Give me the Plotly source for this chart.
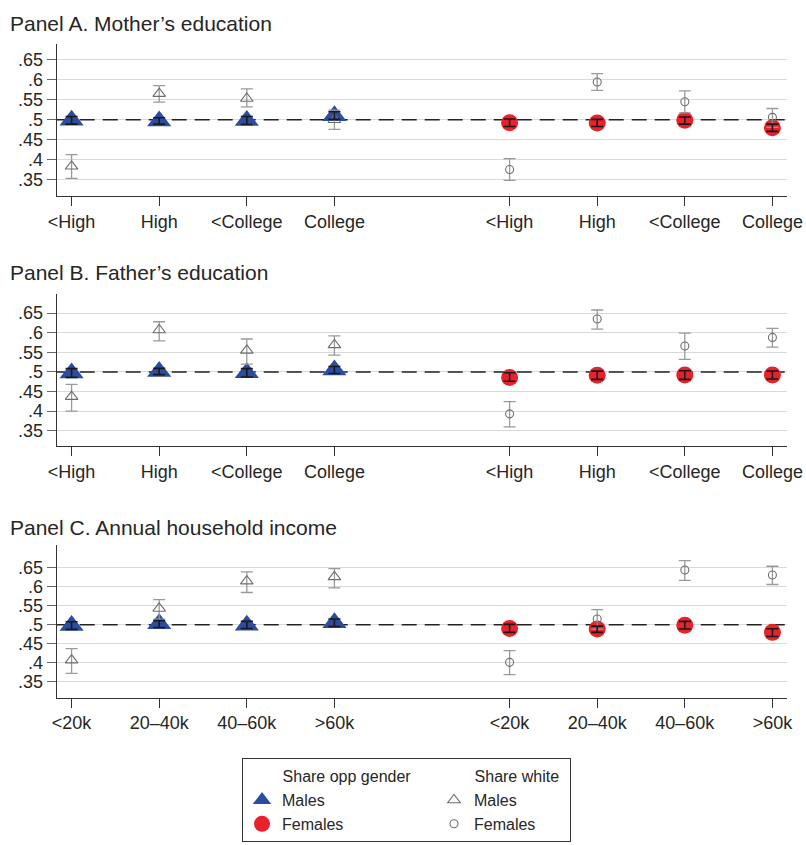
import plotly.graph_objects as go

# ---- category labels -------------------------------------------------------
edu_labels = ["<High", "High", "<College", "College"]
inc_labels = ["<20k", "20–40k", "40–60k", ">60k"]

# slot positions on the x axis: males on the left, females on the right
male_pos = [0, 1, 2, 3]
female_pos = [5, 6, 7, 8]

# ---- Panel A. Mother's education --------------------------------------------
A_opp_m = [0.499, 0.497, 0.498, 0.510]
A_opp_m_lo = [0.489, 0.489, 0.488, 0.501]
A_opp_m_hi = [0.508, 0.505, 0.508, 0.520]
A_opp_f = [0.4925, 0.492, 0.499, 0.480]
A_opp_f_lo = [0.483, 0.483, 0.489, 0.471]
A_opp_f_hi = [0.502, 0.501, 0.507, 0.489]
A_white_m = [0.384, 0.565, 0.553, 0.500]
A_white_m_lo = [0.354, 0.544, 0.532, 0.476]
A_white_m_hi = [0.413, 0.585, 0.577, 0.524]
A_white_f = [0.376, 0.594, 0.545, 0.506]
A_white_f_lo = [0.349, 0.573, 0.517, 0.481]
A_white_f_hi = [0.403, 0.615, 0.572, 0.528]

# ---- Panel B. Father's education --------------------------------------------
B_opp_m = [0.497, 0.501, 0.498, 0.505]
B_opp_m_lo = [0.486, 0.493, 0.487, 0.496]
B_opp_m_hi = [0.5085, 0.509, 0.5085, 0.514]
B_opp_f = [0.486, 0.4915, 0.492, 0.492]
B_opp_f_lo = [0.476, 0.481, 0.481, 0.482]
B_opp_f_hi = [0.498, 0.502, 0.503, 0.5025]
B_white_m = [0.437, 0.607, 0.555, 0.569]
B_white_m_lo = [0.400, 0.579, 0.520, 0.543]
B_white_m_hi = [0.468, 0.628, 0.584, 0.592]
B_white_f = [0.393, 0.635, 0.566, 0.588]
B_white_f_lo = [0.360, 0.609, 0.532, 0.563]
B_white_f_hi = [0.424, 0.658, 0.599, 0.611]

# ---- Panel C. Annual household income ---------------------------------------
C_opp_m = [0.498, 0.5025, 0.499, 0.505]
C_opp_m_lo = [0.488, 0.493, 0.490, 0.4955]
C_opp_m_hi = [0.508, 0.511, 0.509, 0.515]
C_opp_f = [0.490, 0.489, 0.499, 0.480]
C_opp_f_lo = [0.480, 0.480, 0.489, 0.469]
C_opp_f_hi = [0.501, 0.4965, 0.509, 0.4895]
C_white_m = [0.407, 0.543, 0.615, 0.626]
C_white_m_lo = [0.372, 0.515, 0.585, 0.597]
C_white_m_hi = [0.437, 0.566, 0.639, 0.648]
C_white_f = [0.401, 0.515, 0.644, 0.631]
C_white_f_lo = [0.369, 0.4886, 0.617, 0.606]
C_white_f_hi = [0.432, 0.540, 0.669, 0.654]

y_ticks = [0.35, 0.40, 0.45, 0.50, 0.55, 0.60, 0.65]
y_tick_text = [".35", ".4", ".45", ".5", ".55", ".6", ".65"]
REF_LEVEL = 0.5          # parity benchmark shown as a dashed line
X_RANGE = [-0.17, 8.17]

BLUE = "#2C4C9F"
RED = "#E8212A"
GRAY_MARK = "#6E6E6E"
GRAY_CI = "#9A9A9A"
FONT = "Liberation Sans"
TXT = "#262626"
NB = "\u00a0"  # non-breaking space used to indent the legend group titles

panels = [
    dict(title="Panel A. Mother’s education", labels=edu_labels,
         opp_m=(A_opp_m, A_opp_m_lo, A_opp_m_hi), opp_f=(A_opp_f, A_opp_f_lo, A_opp_f_hi),
         wh_m=(A_white_m, A_white_m_lo, A_white_m_hi), wh_f=(A_white_f, A_white_f_lo, A_white_f_hi),
         px=(43.5, 196.0), yrange=[0.310, 0.690], title_y=23),
    dict(title="Panel B. Father’s education", labels=edu_labels,
         opp_m=(B_opp_m, B_opp_m_lo, B_opp_m_hi), opp_f=(B_opp_f, B_opp_f_lo, B_opp_f_hi),
         wh_m=(B_white_m, B_white_m_lo, B_white_m_hi), wh_f=(B_white_f, B_white_f_lo, B_white_f_hi),
         px=(294.3, 446.0), yrange=[0.311, 0.698], title_y=273),
    dict(title="Panel C. Annual household income", labels=inc_labels,
         opp_m=(C_opp_m, C_opp_m_lo, C_opp_m_hi), opp_f=(C_opp_f, C_opp_f_lo, C_opp_f_hi),
         wh_m=(C_white_m, C_white_m_lo, C_white_m_hi), wh_f=(C_white_f, C_white_f_lo, C_white_f_hi),
         px=(545.0, 697.7), yrange=[0.308, 0.710], title_y=527),
]

W, H = 806, 845
X_LEFT, X_RIGHT = 56.7, 787.3

opp_title = NB * 8 + "Share opp gender" + NB * 3
white_title = NB * 8 + "Share white"


def ci(vals, lo, hi):
    return dict(type="data", symmetric=False,
                array=[h - v for v, h in zip(vals, hi)],
                arrayminus=[v - l for v, l in zip(vals, lo)])


fig = go.Figure()
layout = dict(width=W, height=H, margin=dict(l=0, r=0, t=0, b=0),
              paper_bgcolor="white", plot_bgcolor="white",
              font=dict(family=FONT, color=TXT), annotations=[])

for i, p in enumerate(panels):
    n = "" if i == 0 else str(i + 1)
    xa, ya = "x" + n, "y" + n
    first = i == 0
    x_all = male_pos + female_pos

    # dashed parity line, drawn first so the markers sit on top of it
    fig.add_trace(go.Scatter(
        x=X_RANGE, y=[REF_LEVEL, REF_LEVEL], xaxis=xa, yaxis=ya, mode="lines",
        line=dict(color="#222222", width=1.5, dash="15px,8px"),
        showlegend=False, hoverinfo="skip", cliponaxis=False))

    # filled markers: share of opposite gender
    fig.add_trace(go.Scatter(
        x=male_pos, y=p["opp_m"][0], xaxis=xa, yaxis=ya, mode="markers",
        marker=dict(symbol="triangle-up", size=21, color=BLUE, line=dict(width=0)),
        name="Males", legendgroup="opp", legendgrouptitle_text=opp_title,
        showlegend=first, legendrank=1))
    fig.add_trace(go.Scatter(
        x=female_pos, y=p["opp_f"][0], xaxis=xa, yaxis=ya, mode="markers",
        marker=dict(symbol="circle", size=17, color=RED, line=dict(width=0)),
        name="Females", legendgroup="opp", legendgrouptitle_text=opp_title,
        showlegend=first, legendrank=2))

    # hollow markers with grey intervals: share white
    fig.add_trace(go.Scatter(
        x=male_pos, y=p["wh_m"][0], xaxis=xa, yaxis=ya, mode="markers",
        marker=dict(symbol="triangle-up-open", size=11, color=GRAY_MARK, line=dict(width=1.1)),
        error_y=dict(ci(*p["wh_m"]), color=GRAY_CI, thickness=1.3, width=6),
        name="Males", legendgroup="white", legendgrouptitle_text=white_title,
        showlegend=first, legendrank=3))
    fig.add_trace(go.Scatter(
        x=female_pos, y=p["wh_f"][0], xaxis=xa, yaxis=ya, mode="markers",
        marker=dict(symbol="circle-open", size=8, color=GRAY_MARK, line=dict(width=1.1)),
        error_y=dict(ci(*p["wh_f"]), color=GRAY_CI, thickness=1.3, width=6),
        name="Females", legendgroup="white", legendgrouptitle_text=white_title,
        showlegend=first, legendrank=4))

    # black intervals for the opposite-gender shares, drawn on top
    opp_vals = p["opp_m"][0] + p["opp_f"][0]
    opp_lo = p["opp_m"][1] + p["opp_f"][1]
    opp_hi = p["opp_m"][2] + p["opp_f"][2]
    fig.add_trace(go.Scatter(
        x=x_all, y=opp_vals, xaxis=xa, yaxis=ya, mode="markers",
        marker=dict(size=1, color="rgba(0,0,0,0)"),
        error_y=dict(ci(opp_vals, opp_lo, opp_hi), color="#1a1a1a", thickness=1.6, width=6),
        showlegend=False, hoverinfo="skip"))

    top_px, bot_px = p["px"]
    layout["xaxis" + n] = dict(
        domain=[X_LEFT / W, X_RIGHT / W], range=X_RANGE, anchor=ya,
        tickmode="array", tickvals=x_all, ticktext=p["labels"] + p["labels"],
        ticks="outside", ticklen=9, tickwidth=1.2, tickcolor="#333",
        showline=True, linecolor="#333", linewidth=1.3, showgrid=False,
        zeroline=False, tickfont=dict(size=18, color=TXT, family=FONT), automargin=False)
    layout["yaxis" + n] = dict(
        domain=[1 - bot_px / H, 1 - top_px / H], range=p["yrange"], anchor=xa,
        tickmode="array", tickvals=y_ticks, ticktext=y_tick_text,
        ticks="outside", ticklen=9, tickwidth=1, tickcolor="#666",
        showline=True, linecolor="#333", linewidth=1.3,
        showgrid=True, gridcolor="#d9d9d9", gridwidth=1.2, zeroline=False,
        tickfont=dict(size=18, color=TXT, family=FONT), automargin=False)

    layout["annotations"].append(dict(
        text=p["title"], xref="paper", yref="paper", x=8 / W, y=1 - p["title_y"] / H,
        xanchor="left", yanchor="middle", showarrow=False,
        font=dict(size=21, color=TXT, family=FONT)))

layout["legend"] = dict(
    orientation="h", x=242 / W, y=1 - 758 / H, xanchor="left", yanchor="top",
    bordercolor="#333", borderwidth=1.3, bgcolor="white",
    font=dict(size=16, color=TXT, family=FONT),
    grouptitlefont=dict(size=16, color=TXT, family=FONT),
    traceorder="grouped", tracegroupgap=40)

fig.update_layout(**layout)
fig.write_html("out.html")
